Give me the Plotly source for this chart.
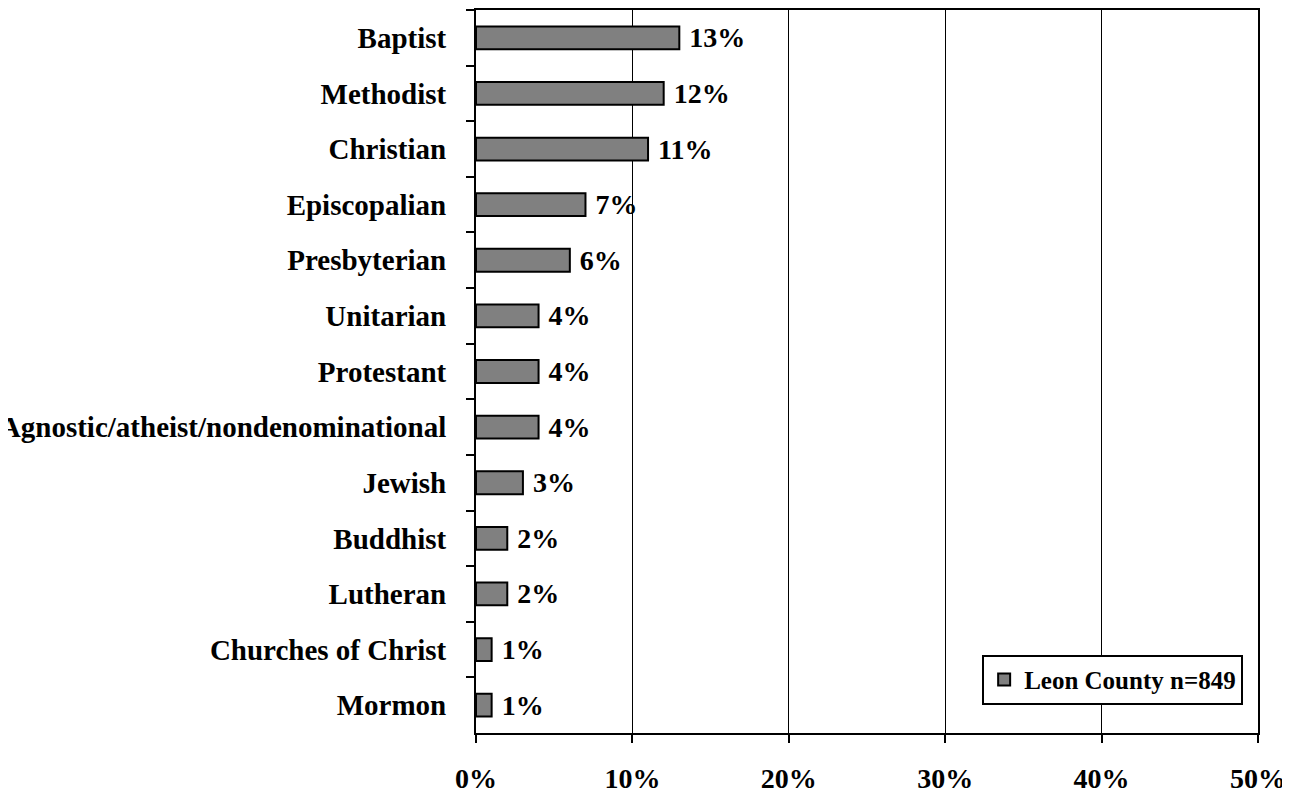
import plotly.graph_objects as go

categories = ["Baptist", "Methodist", "Christian", "Episcopalian", "Presbyterian",
              "Unitarian", "Protestant", "Agnostic/atheist/nondenominational",
              "Jewish", "Buddhist", "Lutheran", "Churches of Christ", "Mormon"]
values = [13, 12, 11, 7, 6, 4, 4, 4, 3, 2, 2, 1, 1]
series_name = "Leon County n=849"
x_ticks = [0, 10, 20, 30, 40, 50]
x_tick_labels = ["0%", "10%", "20%", "30%", "40%", "50%"]

FONT = "Liberation Serif, Times New Roman, serif"

fig = go.Figure()
fig.add_trace(go.Bar(
    y=categories,
    x=values,
    orientation="h",
    name=series_name,
    marker=dict(color="#808080", line=dict(color="black", width=2)),
    text=["\u00a0" + f"{v}%" for v in values],
    textposition="outside",
    constraintext="none",
    textfont=dict(family=FONT, size=28, color="black", weight="bold"),
    cliponaxis=False,
    showlegend=True,
))

fig.update_layout(
    width=1282, height=786,
    margin=dict(l=468, r=32, t=2, b=61, autoexpand=False),
    paper_bgcolor="white",
    plot_bgcolor="white",
    font=dict(family=FONT, size=28, color="black", weight="bold"),
    bargap=0.59,
    showlegend=True,
    legend=dict(
        x=0.981, y=0.039, xanchor="right", yanchor="bottom",
        bordercolor="black", borderwidth=2, bgcolor="white",
        font=dict(family=FONT, size=25, color="black", weight="bold"),
        itemwidth=30,
    ),
    xaxis=dict(
        range=[0, 50],
        tickvals=x_ticks,
        ticktext=x_tick_labels,
        showgrid=True, gridcolor="black", gridwidth=1,
        showline=True, linecolor="black", linewidth=2, mirror=True,
        ticks="outside", ticklen=8, tickwidth=2, tickcolor="black",
        ticklabelstandoff=11,
        tickfont=dict(family=FONT, size=28, color="black", weight="bold"),
        zeroline=False,
        automargin=False,
    ),
    yaxis=dict(
        categoryorder="array",
        categoryarray=categories,
        autorange="reversed",
        showline=True, linecolor="black", linewidth=2, mirror=True,
        ticks="outside", ticklen=8, tickwidth=2, tickcolor="black",
        tickson="boundaries",
        ticklabelstandoff=22,
        tickfont=dict(family=FONT, size=29, color="black", weight="bold"),
        showgrid=False,
        automargin=False,
    ),
)

fig.write_html("out.html")
